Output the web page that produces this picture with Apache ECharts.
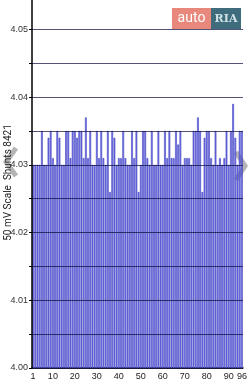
<!DOCTYPE html>
<html><head><meta charset="utf-8">
<script src="https://cdn.jsdelivr.net/npm/echarts@6/dist/echarts.min.js"></script>
<style>html,body{margin:0;padding:0;background:#fff}#c{width:250px;height:380px}</style>
</head><body><div id="c"></div>
<script>
var categories = [];
for (var i = 1; i <= 96; i++) categories.push(String(i));
var shuntValues = [
4.030,4.030,4.030,4.030,4.035,4.030,4.030,4.034,4.035,4.031,
4.030,4.035,4.034,4.030,4.030,4.035,4.035,4.031,4.035,4.035,
4.034,4.035,4.035,4.031,4.037,4.031,4.035,4.030,4.030,4.035,
4.031,4.035,4.031,4.030,4.035,4.026,4.035,4.034,4.030,4.031,
4.031,4.035,4.031,4.030,4.030,4.035,4.031,4.035,4.026,4.030,
4.035,4.035,4.031,4.030,4.035,4.030,4.030,4.035,4.030,4.030,
4.035,4.031,4.035,4.031,4.031,4.035,4.033,4.035,4.030,4.031,
4.031,4.031,4.030,4.035,4.035,4.037,4.035,4.026,4.034,4.035,
4.035,4.031,4.030,4.035,4.030,4.031,4.030,4.031,4.035,4.030,
4.035,4.039,4.034,4.030,4.035,4.035];
var xLabelShown = ['1','10','20','30','40','50','60','70','80','90','96'];
var yAxisName = '50 mV Scale  Shunts 8421';

var chart = echarts.init(document.getElementById('c'), null, {renderer:'canvas'});
chart.setOption({
  animation:false,
  grid:{left:32,right:7,top:-3,bottom:12,containLabel:false,outerBoundsMode:'none'},
  xAxis:{
    type:'category', data:categories,
    axisLine:{lineStyle:{color:'#000',width:1.5}},
    axisTick:{alignWithLabel:true,length:3,lineStyle:{color:'#000'},
      interval:function(idx){return idx===0||idx===95||(idx+1)%5===0;}},
    axisLabel:{fontSize:9,color:'#222',margin:4,hideOverlap:false,
      interval:function(idx,val){return xLabelShown.indexOf(val)>=0;}},
    splitLine:{show:false}
  },
  yAxis:{
    type:'value', min:4.0, max:4.0548, interval:0.005, z:3,
    name:yAxisName, nameLocation:'middle', nameGap:19, nameRotate:90, nameMoveOverlap:false,
    nameTextStyle:{fontSize:10,color:'#222',fontFamily:'Roboto'},
    axisLine:{show:true,lineStyle:{color:'#000',width:1.5}},
    axisTick:{show:true,length:3,lineStyle:{color:'#000'}},
    axisLabel:{fontSize:9,color:'#333',margin:4,
      formatter:function(v){var r=Math.round(v*1000);return (r%10===0&&v<4.0545)?v.toFixed(2):'';}},
    splitLine:{show:true,lineStyle:{color:'rgba(10,10,60,0.7)',width:1}}
  },
  series:[{
    type:'bar', data:shuntValues, barCategoryGap:'25%',
    itemStyle:{color:'#8080f2',borderColor:'#2525b0',borderWidth:0.5}
  }],
  graphic:[
    {type:'rect',shape:{x:172,y:8,width:39,height:21},style:{fill:'#e8887c'}},
    {type:'text',style:{x:191.5,y:18.5,text:'auto',fill:'#fff',fontSize:14,fontFamily:'Roboto',align:'center',verticalAlign:'middle'}},
    {type:'rect',shape:{x:211,y:8,width:30,height:21},style:{fill:'#3e6c7c'}},
    {type:'text',style:{x:226,y:19,text:'RIA',fill:'#cfe0e6',fontSize:11,fontFamily:'DejaVu Serif',fontWeight:'bold',align:'center',verticalAlign:'middle'}},
    {type:'polyline',shape:{points:[[16,148],[6,162],[16,176]]},style:{stroke:'rgba(120,120,120,0.55)',lineWidth:5,fill:null}},
    {type:'polyline',shape:{points:[[236,152],[245,166],[236,180]]},style:{stroke:'rgba(120,120,120,0.55)',lineWidth:5,fill:null}}
  ]
});
</script></body></html>
